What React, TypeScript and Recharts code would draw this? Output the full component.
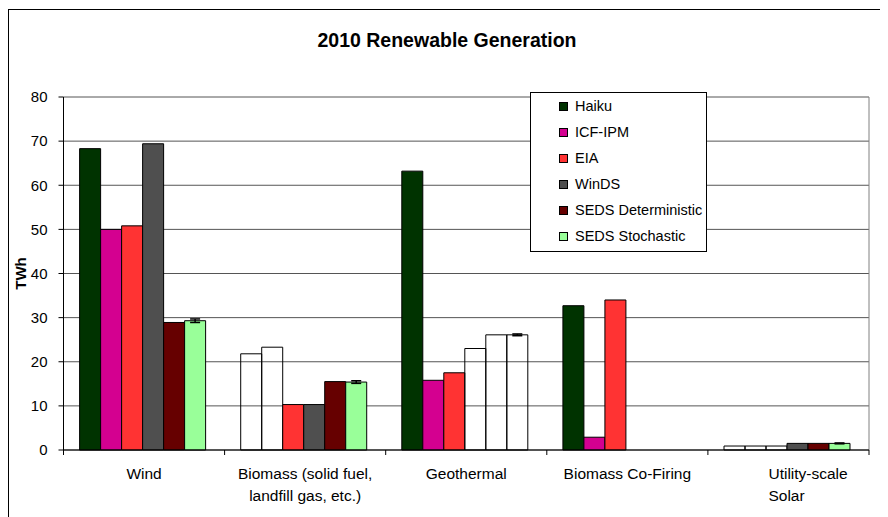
import React from 'react';
import {
  Bar,
  BarChart,
  CartesianGrid,
  Cell,
  ErrorBar,
  Legend,
  XAxis,
  YAxis,
} from 'recharts';

const CATEGORIES = ['Wind', 'Biomass', 'Geothermal', 'Biomass Co-Firing', 'Utility-scale Solar'];
const CATEGORY_LINES = [
  ['Wind'],
  ['Biomass (solid fuel,', 'landfill gas, etc.)'],
  ['Geothermal'],
  ['Biomass Co-Firing'],
  ['Utility-scale', 'Solar'],
];

const HAIKU = [68.3, 21.8, 63.2, 32.7, 0.9];
const ICF_IPM = [50.0, 23.3, 15.8, 2.9, 0.9];
const EIA = [50.8, 10.3, 17.5, 34.0, 0.9];
const WINDS = [69.4, 10.3, 23.0, 0, 1.5];
const SEDS_DET = [28.9, 15.5, 26.1, 0, 1.5];
const SEDS_STOCH = [29.3, 15.4, 26.1, 0, 1.5];
const SEDS_STOCH_ERR = [0.4, 0.3, 0.2, 0, 0.1];

const Y_TICKS = [0, 10, 20, 30, 40, 50, 60, 70, 80];

// bars drawn as outlines only (category index per series)
const HOLLOW: Record<string, number[]> = {
  'Haiku': [1, 4],
  'ICF-IPM': [1, 4],
  'EIA': [4],
  'WinDS': [2],
  'SEDS Deterministic': [2],
  'SEDS Stochastic': [2],
};

const SERIES = [
  { key: 'Haiku', color: '#003300', values: HAIKU },
  { key: 'ICF-IPM', color: '#d40090', values: ICF_IPM },
  { key: 'EIA', color: '#ff3333', values: EIA },
  { key: 'WinDS', color: '#4f4f4f', values: WINDS },
  { key: 'SEDS Deterministic', color: '#660000', values: SEDS_DET },
  { key: 'SEDS Stochastic', color: '#99ff99', values: SEDS_STOCH },
];

const data = CATEGORIES.map((c, i) => {
  const row: Record<string, string | number> = { category: c, stochErr: SEDS_STOCH_ERR[i] };
  SERIES.forEach((s) => { row[s.key] = s.values[i]; });
  return row;
});

const FONT = '"Liberation Sans", Arial, sans-serif';

function CategoryTick(props: any) {
  const { x, y, payload } = props;
  const idx = CATEGORIES.indexOf(payload.value);
  const half = payload.offset ?? 80.5;
  const axisY = y - 8;
  const lines = CATEGORY_LINES[idx] || [];
  const leftAligned = idx === CATEGORIES.length - 1;
  return (
    <g>
      <line x1={x - half} x2={x - half} y1={axisY} y2={axisY + 5} stroke="#000" />
      {idx === CATEGORIES.length - 1 && (
        <line x1={x + half} x2={x + half} y1={axisY} y2={axisY + 5} stroke="#000" />
      )}
      <text
        x={leftAligned ? x - 20 : x}
        y={axisY + 29}
        textAnchor={leftAligned ? 'start' : 'middle'}
        fontSize={15.5}
        fontFamily={FONT}
        fill="#000"
      >
        {lines.map((l, i) => (
          <tspan key={i} x={leftAligned ? x - 20 : x} dy={i === 0 ? 0 : 22}>{l}</tspan>
        ))}
      </text>
    </g>
  );
}

function LegendBox() {
  return (
    <div style={{
      width: 175,
      height: 158,
      border: '1px solid #000',
      background: '#fff',
      fontFamily: FONT,
      fontSize: 14.5,
      color: '#000',
    }}>
      {SERIES.map((s) => (
        <div key={s.key} style={{ height: 26, display: 'flex', alignItems: 'center', paddingLeft: 28 }}>
          <span style={{ width: 7, height: 7, background: s.color, border: '1px solid #000', display: 'inline-block', marginRight: 7 }} />
          {s.key}
        </div>
      ))}
    </div>
  );
}

export default function App() {
  return (
    <div style={{ position: 'relative', width: 880, height: 509 }}>
      <style>{'html, body { overflow: hidden; }'}</style>
      <div style={{
        position: 'absolute', left: -1, top: 1, width: 900, height: 530,
        borderLeft: '2px solid #000', borderTop: '1.5px solid #000', boxSizing: 'border-box',
      }} />
      <div style={{
        position: 'absolute', left: 0, width: 878, top: 22, textAlign: 'center',
        fontFamily: FONT, fontWeight: 'bold', fontSize: 19.5, lineHeight: '20px',
      }}>
        2010 Renewable Generation
      </div>
      <BarChart
        width={880}
        height={509}
        data={data}
        margin={{ top: 89, right: 19, left: 5.5, bottom: 7 }}
        barCategoryGap="10%"
        barGap={0}
      >
        <CartesianGrid vertical={false} stroke="#555" />
        <CartesianGrid
          horizontal={false}
          stroke="#808080"
          verticalCoordinatesGenerator={({ offset }: any) => [offset.left + offset.width]}
        />
        <XAxis
          dataKey="category"
          tickLine={false}
          tickSize={6}
          tickMargin={2}
          height={60}
          axisLine={{ stroke: '#000' }}
          tick={<CategoryTick />}
          interval={0}
        />
        <YAxis
          domain={[0, 80]}
          ticks={Y_TICKS}
          width={50}
          tickSize={5}
          tickMargin={11}
          axisLine={{ stroke: '#000' }}
          tickLine={{ stroke: '#000' }}
          tick={{ fill: '#000', fontSize: 15, fontFamily: FONT }}
          label={{
            content: ({ viewBox }: any) => (
              <text
                x={viewBox.x + 7}
                y={viewBox.y + viewBox.height / 2}
                transform={`rotate(-90, ${viewBox.x + 7}, ${viewBox.y + viewBox.height / 2})`}
                textAnchor="middle"
                dominantBaseline="central"
                fontSize={15}
                fontWeight="bold"
                fontFamily={FONT}
                fill="#000"
              >
                TWh
              </text>
            ),
          }}
        />
        <Legend
          layout="vertical"
          align="center"
          verticalAlign="middle"
          content={() => <LegendBox />}
          wrapperStyle={{ left: 522, top: 84, width: 177 }}
        />
        {SERIES.map((s) => (
          <Bar key={s.key} dataKey={s.key} fill={s.color} stroke="#000" strokeWidth={1} isAnimationActive={false}>
            {data.map((_, i) => (
              <Cell key={i} fill={HOLLOW[s.key].includes(i) ? 'none' : s.color} />
            ))}
            {s.key === 'SEDS Stochastic' && (
              <ErrorBar dataKey="stochErr" width={5} stroke="#000" strokeWidth={1.5} />
            )}
          </Bar>
        ))}
      </BarChart>
    </div>
  );
}
